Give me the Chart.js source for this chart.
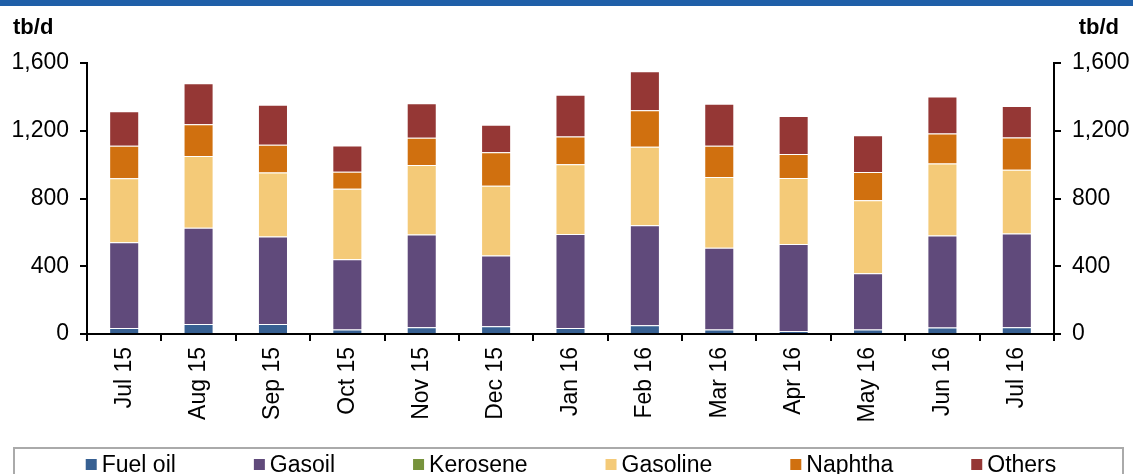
<!DOCTYPE html>
<html>
<head>
<meta charset="utf-8">
<title>Exports of petroleum products</title>
<script src="https://cdn.jsdelivr.net/npm/chart.js@4.4.1/dist/chart.umd.min.js"></script>
<style>
  body { margin: 0; background: #fff; overflow: hidden; }
  #band { position: absolute; left: 0; top: 0; width: 1133px; height: 6px; background: #1f5fa8; }
  canvas { display: block; }
</style>
</head>
<body>
<canvas id="exportsChart" width="1133" height="474"></canvas>
<div id="band"></div>
<script>
const months = ['Jul 15', 'Aug 15', 'Sep 15', 'Oct 15', 'Nov 15', 'Dec 15', 'Jan 16', 'Feb 16', 'Mar 16', 'Apr 16', 'May 16', 'Jun 16', 'Jul 16'];
const fuelOil  = [36, 59, 59, 26, 40, 46, 36, 51, 26, 18, 26, 38, 40];
const gasoil   = [506, 569, 517, 416, 548, 417, 554, 591, 483, 513, 332, 544, 554];
const kerosene = [0, 0, 0, 0, 0, 0, 0, 0, 0, 0, 0, 0, 0];
const gasoline = [377, 423, 378, 415, 410, 412, 412, 463, 418, 390, 432, 424, 376];
const naphtha  = [192, 187, 163, 101, 160, 198, 164, 216, 184, 142, 166, 178, 190];
const others   = [204, 243, 237, 155, 204, 163, 246, 231, 249, 224, 218, 218, 186];
const yTicks   = [0, 400, 800, 1200, 1600];

const FONT = '"Liberation Sans", Arial, sans-serif';

// units label on both sides
const unitLabels = {
  id: 'unitLabels',
  afterDraw(chart) {
    const ctx = chart.ctx;
    ctx.save();
    ctx.font = 'bold 22px ' + FONT;
    ctx.fillStyle = '#000';
    ctx.textBaseline = 'alphabetic';
    ctx.textAlign = 'left';
    ctx.fillText('tb/d', 13, 34);
    ctx.textAlign = 'right';
    ctx.fillText('tb/d', 1119, 34);
    ctx.restore();
  }
};

// boxed legend at the bottom
const legendBox = {
  id: 'legendBox',
  afterDraw(chart) {
    const ctx = chart.ctx;
    ctx.save();
    ctx.strokeStyle = '#aaaaaa';
    ctx.lineWidth = 2;
    ctx.strokeRect(14, 448, 1109, 40);
    ctx.font = '23px ' + FONT;
    ctx.textBaseline = 'middle';
    ctx.textAlign = 'left';
    const gap = 78, box = 11;
    const items = chart.data.datasets.map(ds => ({
      text: ds.label,
      color: ds.backgroundColor,
      w: box + 5 + ctx.measureText(ds.label).width
    }));
    const total = items.reduce((a, it) => a + it.w, 0) + gap * (items.length - 1);
    let x = 571 - total / 2;
    items.forEach(it => {
      ctx.fillStyle = it.color;
      ctx.fillRect(x, 459, box, box);
      ctx.fillStyle = '#000';
      ctx.fillText(it.text, x + box + 5, 466);
      x += it.w + gap;
    });
    ctx.restore();
  }
};

const yAxis = (position, width) => ({
  type: 'linear',
  position: position,
  stacked: true,
  min: 0,
  max: 1600,
  afterBuildTicks: s => { s.ticks = yTicks.map(v => ({ value: v })); },
  afterFit: s => { s.width = width; },
  grid: { drawOnChartArea: false, drawTicks: true, tickLength: 7, color: '#000', lineWidth: 2 },
  border: { display: true, color: '#000', width: 2 },
  ticks: {
    color: '#000',
    font: { family: FONT, size: 23 },
    padding: 11,
    callback: v => v.toLocaleString('en-US')
  }
});

const Exports = document.getElementById('exportsChart');

new Chart(Exports, {
  type: 'bar',
  data: {
    labels: months,
    datasets: [
      { label: 'Fuel oil', data: fuelOil, backgroundColor: '#376092' },
      { label: 'Gasoil', data: gasoil, backgroundColor: '#604a7b' },
      { label: 'Kerosene', data: kerosene, backgroundColor: '#77933c' },
      { label: 'Gasoline', data: gasoline, backgroundColor: '#f4ca78' },
      { label: 'Naphtha', data: naphtha, backgroundColor: '#d0700f' },
      { label: 'Others', data: others, backgroundColor: '#953735' }
    ].map(ds => Object.assign(ds, {
      borderColor: 'rgba(255,255,255,0.35)',
      borderWidth: 1,
      barPercentage: 0.404,
      categoryPercentage: 1.0
    }))
  },
  options: {
    responsive: false,
    animation: false,
    layout: { padding: { top: 63, bottom: 41, left: 0, right: 0 } },
    plugins: {
      legend: { display: false },
      tooltip: { enabled: false }
    },
    scales: {
      x: {
        stacked: true,
        afterFit: s => { s.height = 99; },
        grid: { drawOnChartArea: false, drawTicks: true, tickLength: 7, color: '#000', lineWidth: 2, offset: true },
        border: { display: true, color: '#000', width: 2 },
        ticks: {
          color: '#000',
          font: { family: FONT, size: 23 },
          minRotation: 90,
          maxRotation: 90,
          autoSkip: false,
          padding: 6
        }
      },
      y: yAxis('left', 87),
      y2: yAxis('right', 79)
    }
  },
  plugins: [unitLabels, legendBox]
});
</script>
</body>
</html>
